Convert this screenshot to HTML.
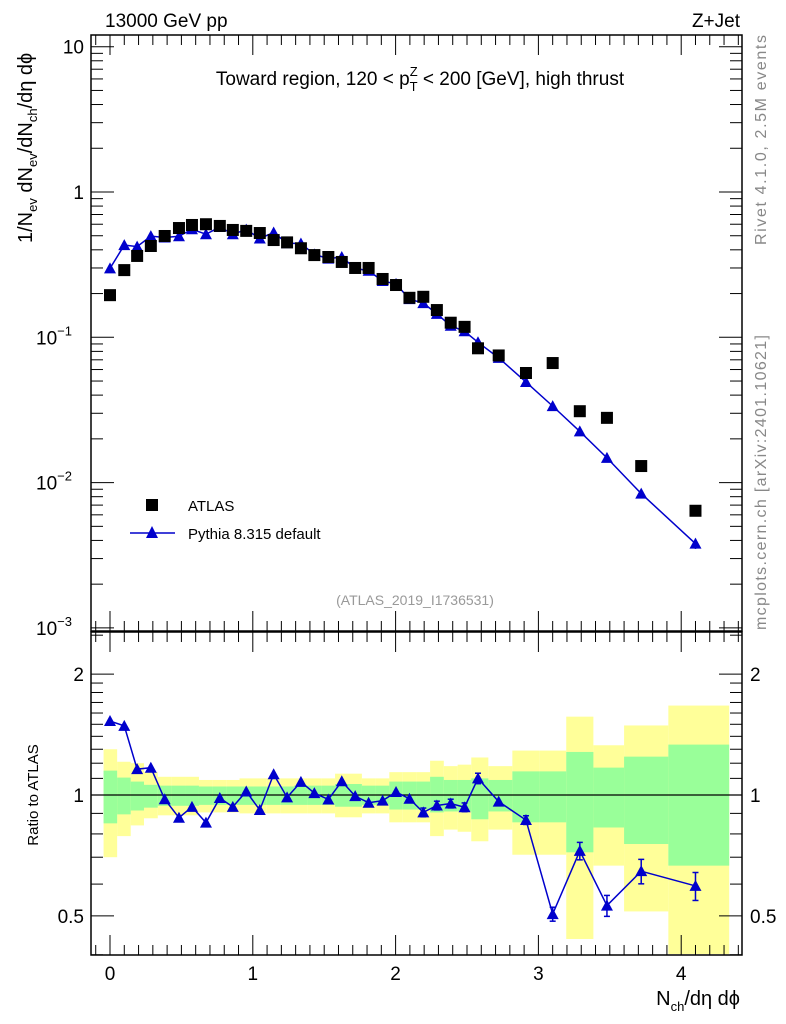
<!DOCTYPE html>
<html><head><meta charset="utf-8"><style>
body{margin:0;background:#fff;}
svg{display:block;font-family:"Liberation Sans",sans-serif;}
</style></head><body>
<svg id="chart" width="786" height="1024" viewBox="0 0 786 1024" xmlns="http://www.w3.org/2000/svg">
<g id="bands"></g>
<g id="axes"></g>
<g id="marks"></g>
<text x="105" y="27" font-size="19">13000 GeV pp</text>
<text x="740" y="27" font-size="19" text-anchor="end">Z+Jet</text>
<text x="420" y="85" font-size="19" text-anchor="middle">Toward region, 120 &lt; p<tspan font-size="13" dy="-9">Z</tspan><tspan font-size="13" dx="-8" dy="15">T</tspan><tspan dy="-6"> &lt; 200 [GeV], high thrust</tspan></text>
<text transform="translate(766,245) rotate(-90)" font-size="16" fill="#888" text-anchor="start" textLength="210">Rivet 4.1.0,  2.5M events</text>
<text transform="translate(766,630) rotate(-90)" font-size="16" fill="#888" text-anchor="start" textLength="295">mcplots.cern.ch [arXiv:2401.10621]</text>
<text transform="translate(32,243) rotate(-90)" font-size="20" text-anchor="start">1/N<tspan font-size="13" dy="5">ev</tspan><tspan dy="-5"> dN</tspan><tspan font-size="13" dy="5">ev</tspan><tspan dy="-5">/dN</tspan><tspan font-size="13" dy="5">ch</tspan><tspan dy="-5">/dη dϕ</tspan></text>
<text transform="translate(38,795) rotate(-90)" font-size="15" text-anchor="middle">Ratio to ATLAS</text>
<text x="740" y="1005" font-size="20" text-anchor="end">N<tspan font-size="13" dy="6">ch</tspan><tspan dy="-6">/dη dϕ</tspan></text>
<text x="415" y="605" font-size="14" fill="#999" text-anchor="middle">(ATLAS_2019_I1736531)</text>
<g>
<rect x="146" y="499" width="12" height="12" fill="#000"/>
<text x="188" y="511" font-size="15">ATLAS</text>
<line x1="130" y1="533" x2="175" y2="533" stroke="#00c" stroke-width="1.5"/>
<polygon points="152,526 146,538 158,538" fill="#00c"/>
<text x="188" y="539" font-size="15">Pythia 8.315 default</text>
</g>
</svg>
<script>
const xs=[0,0.1,0.19,0.286,0.383,0.483,0.574,0.672,0.769,0.86,0.954,1.049,1.146,1.24,1.337,1.431,1.529,1.623,1.717,1.811,1.909,2.003,2.097,2.194,2.289,2.386,2.483,2.577,2.722,2.913,3.1,3.29,3.48,3.72,4.1];
const atlas=[0.195,0.29,0.363,0.425,0.498,0.565,0.593,0.60,0.584,0.548,0.54,0.522,0.467,0.45,0.41,0.368,0.357,0.33,0.30,0.30,0.252,0.229,0.187,0.19,0.154,0.126,0.118,0.084,0.075,0.0568,0.0665,0.031,0.0279,0.013,0.0064];
const pythia=[0.298,0.431,0.421,0.497,0.486,0.496,0.554,0.512,0.574,0.512,0.551,0.479,0.526,0.444,0.442,0.372,0.348,0.357,0.298,0.287,0.244,0.233,0.183,0.172,0.145,0.120,0.110,0.0924,0.0722,0.0492,0.0336,0.0225,0.0148,0.0084,0.0038];
const pyErr=[0.01,0.01,0.01,0.01,0.01,0.01,0.01,0.01,0.01,0.01,0.01,0.01,0.01,0.01,0.01,0.01,0.01,0.01,0.01,0.01,0.015,0.02,0.015,0.025,0.025,0.025,0.025,0.03,0.02,0.025,0.04,0.05,0.06,0.07,0.08];
const yelLo=[0.70,0.79,0.84,0.875,0.89,0.89,0.89,0.905,0.905,0.905,0.90,0.90,0.90,0.90,0.90,0.90,0.90,0.88,0.88,0.90,0.90,0.855,0.855,0.855,0.79,0.82,0.81,0.767,0.82,0.71,0.71,0.438,0.667,0.513,0.30];
const yelHi=[1.30,1.21,1.20,1.14,1.11,1.11,1.11,1.09,1.09,1.09,1.10,1.10,1.10,1.10,1.10,1.10,1.10,1.13,1.13,1.10,1.10,1.14,1.14,1.14,1.217,1.18,1.19,1.24,1.18,1.29,1.29,1.567,1.33,1.49,1.67];
const grnLo=[0.85,0.895,0.915,0.93,0.94,0.94,0.94,0.945,0.945,0.945,0.945,0.945,0.945,0.945,0.945,0.945,0.945,0.935,0.935,0.945,0.945,0.92,0.92,0.92,0.905,0.91,0.91,0.87,0.91,0.855,0.855,0.72,0.83,0.755,0.667];
const grnHi=[1.15,1.105,1.08,1.06,1.055,1.055,1.055,1.05,1.05,1.05,1.05,1.05,1.05,1.05,1.055,1.055,1.055,1.065,1.065,1.055,1.055,1.08,1.08,1.08,1.11,1.09,1.09,1.10,1.09,1.145,1.145,1.28,1.17,1.246,1.335];
const xTicks=[0,1,2,3,4];
const mainTicks=[{v:10,t:"10"},{v:1,t:"1"},{v:0.1,t:"10",e:"−1"},{v:0.01,t:"10",e:"−2"},{v:0.001,t:"10",e:"−3"}];
const ratioTicks=[{v:2,t:"2"},{v:1,t:"1"},{v:0.5,t:"0.5"}];

const NS="http://www.w3.org/2000/svg";
const L=91,R=742,T=35,MB=631,RT=632,RB=955;
const X=v=>110+v*142.8;
const YM=v=>192-Math.log10(v)*145.3;
const YR=v=>795-Math.log10(v)*401.6;
function mk(tag,attrs,parent){const e=document.createElementNS(NS,tag);for(const k in attrs)e.setAttribute(k,attrs[k]);parent.appendChild(e);return e;}
const axes=document.getElementById('axes'),marks=document.getElementById('marks'),bands=document.getElementById('bands');

const edges=[xs[0]-0.045];
for(let i=0;i<xs.length-1;i++)edges.push((xs[i]+xs[i+1])/2);
edges.push(4.336);
for(let i=0;i<xs.length;i++){
  const y1=YR(yelHi[i]),y2=Math.min(YR(yelLo[i]),RB-1);
  const r=mk('rect',{x:X(edges[i]),y:y1,width:X(edges[i+1])-X(edges[i]),height:y2-y1,fill:'#ffff99'},bands);
  
  
}
for(let i=0;i<xs.length;i++){
  const y1=YR(grnHi[i]),y2=YR(grnLo[i]);
  const r=mk('rect',{x:X(edges[i]),y:y1,width:X(edges[i+1])-X(edges[i]),height:y2-y1,fill:'#99ff99'},bands);
  
  
}

for(const [t,b,n] of [[T,MB,'main-frame'],[RT,RB,'ratio-frame']]){
  const f=mk('rect',{x:L,y:t,width:R-L,height:b-t,fill:'none',stroke:'#000','stroke-width':1.5},axes);
  
  
}
const unity=mk('line',{x1:L,x2:R,y1:YR(1),y2:YR(1),stroke:'#000','stroke-width':1.2},axes);



for(let k=-1;k<=46;k++){
  const v=k/10;const x=X(v);if(x<L||x>R)continue;
  const major=k%10===0;const len=major?20:10;
  for(const [t,b] of [[T,MB],[RT,RB]]){
    mk('line',{x1:x,x2:x,y1:b,y2:b-len,stroke:'#000'},axes);
    mk('line',{x1:x,x2:x,y1:t,y2:t+len,stroke:'#000'},axes);
  }
}
for(const v of xTicks){
  const t=mk('text',{x:X(v),y:980,'font-size':19,'text-anchor':'middle'},axes);t.textContent=v;
  
  
}
for(let d=-3;d<=1;d++){
  for(let m=1;m<=9;m++){
    const v=m*Math.pow(10,d);if(v>10.5)continue;const y=YM(v);if(y<T||y>MB)continue;
    const len=m===1?23:12;
    mk('line',{x1:L,x2:L+len,y1:y,y2:y,stroke:'#000'},axes);
    mk('line',{x1:R,x2:R-len,y1:y,y2:y,stroke:'#000'},axes);
  }
}
for(const tk of mainTicks){
  const t=mk('text',{x:tk.e?72:84,y:YM(tk.v)+7,'font-size':19,'text-anchor':'end'},axes);t.textContent=tk.t;
  if(tk.e){const s=mk('tspan',{'font-size':13,dy:-9},t);s.textContent=tk.e;}
  
  
}
const rv=[0.4,0.5,0.6,0.7,0.8,0.9,1,1.1,1.2,1.3,1.4,1.5,1.6,1.7,1.8,1.9,2,2.5];
for(const v of rv){
  const y=YR(v);if(y<RT||y>RB)continue;
  const major=(v===0.5||v===1||v===2);const len=major?23:12;
  mk('line',{x1:L,x2:L+len,y1:y,y2:y,stroke:'#000'},axes);
  mk('line',{x1:R,x2:R-len,y1:y,y2:y,stroke:'#000'},axes);
}
for(const tk of ratioTicks){
  for(const [x,a] of [[84,'end'],[750,'start']]){
    const t=mk('text',{x:x,y:YR(tk.v)+7,'font-size':19,'text-anchor':a},axes);t.textContent=tk.t;
    
    
  }
}

const mline=mk('polyline',{points:xs.map((x,i)=>X(x)+','+YM(pythia[i])).join(' '),fill:'none',stroke:'#00c','stroke-width':1.5},marks);


function tri(x,y,name){
  const p=mk('polygon',{points:`${x},${y-6} ${x-6},${y+5} ${x+6},${y+5}`,fill:'#00c'},marks);
  
  
}
xs.forEach((x,i)=>{
  const e1=YM(pythia[i]*(1+pyErr[i])),e2=YM(pythia[i]*(1-pyErr[i]));
  if(e2-e1>8)mk('line',{x1:X(x),x2:X(x),y1:e1,y2:e2,stroke:'#00c','stroke-width':1.5},marks);
  tri(X(x),YM(pythia[i]),'pythia-point');
  const s=mk('rect',{x:X(x)-6,y:YM(atlas[i])-6,width:12,height:12,fill:'#000'},marks);
  
  
});
const ratio=xs.map((x,i)=>pythia[i]/atlas[i]);
const rline=mk('polyline',{points:xs.map((x,i)=>X(x)+','+YR(ratio[i])).join(' '),fill:'none',stroke:'#00c','stroke-width':1.5},marks);


xs.forEach((x,i)=>{
  const e1=YR(ratio[i]*(1+pyErr[i])),e2=YR(ratio[i]*(1-pyErr[i]));
  if(e2-e1>8){
    mk('line',{x1:X(x),x2:X(x),y1:e1,y2:e2,stroke:'#00c','stroke-width':1.5},marks);
    mk('line',{x1:X(x)-3,x2:X(x)+3,y1:e1,y2:e1,stroke:'#00c','stroke-width':1.5},marks);
    mk('line',{x1:X(x)-3,x2:X(x)+3,y1:e2,y2:e2,stroke:'#00c','stroke-width':1.5},marks);
  }
  tri(X(x),YR(ratio[i]),'ratio-point');
});
</script>
</body></html>
